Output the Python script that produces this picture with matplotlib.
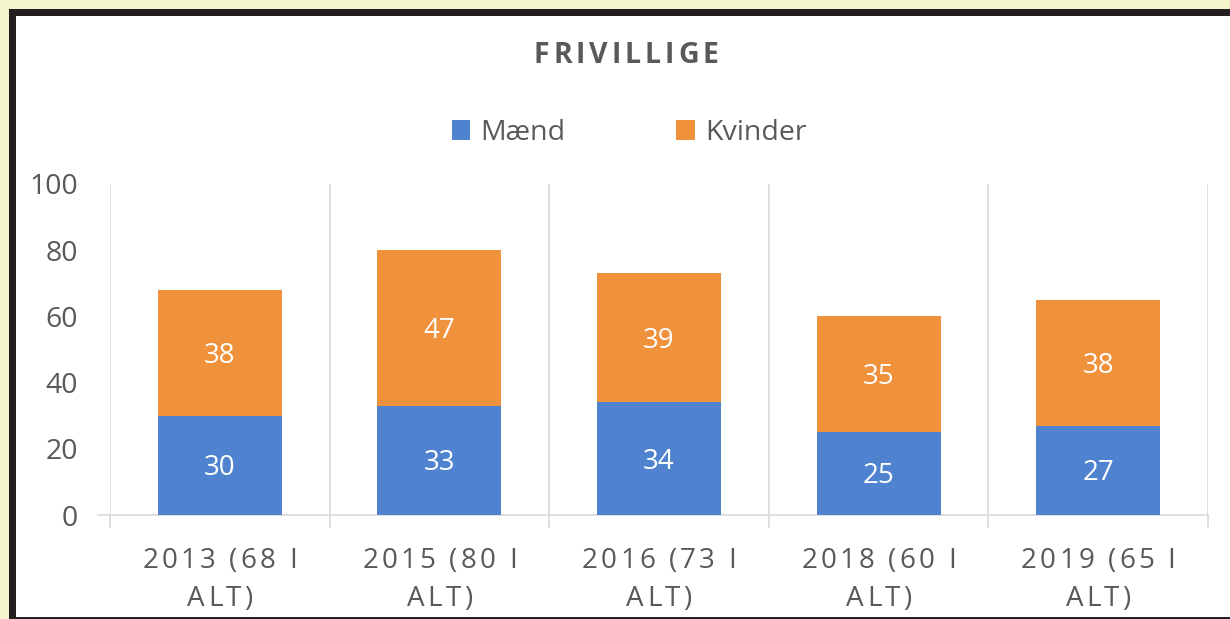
import matplotlib
matplotlib.use("Agg")
import matplotlib.pyplot as plt
import matplotlib.transforms as mtransforms
from matplotlib import font_manager
from matplotlib.font_manager import FontProperties
from matplotlib.ft2font import FT2Font
from matplotlib.patches import Rectangle
import numpy as np

# data
categories = ["2013 (68 I\nALT)", "2015 (80 I\nALT)", "2016 (73 I\nALT)",
              "2018 (60 I\nALT)", "2019 (65 I\nALT)"]
maend = [30, 33, 34, 25, 27]
kvinder = [38, 47, 39, 35, 38]
yticks = [0, 20, 40, 60, 80, 100]

BLUE = "#5083cf"
ORANGE = "#f0913b"
TEXT = "#595959"
GRID = "#d9d9d9"
FAMILY = "Open Sans"

plt.rcParams["font.family"] = [FAMILY, "DejaVu Sans"]

W, H = 1230, 619
fig = plt.figure(figsize=(W / 100, H / 100), dpi=100)
fig.patch.set_facecolor("#f5f5cd")


def advances(s, size, weight="normal"):
    # glyph advances in points, so text can be drawn with letter spacing
    font = FT2Font(font_manager.findfont(FontProperties(family=FAMILY, weight=weight)))
    font.set_size(size, 72)
    return [font.load_char(ord(c)).linearHoriAdvance / 65536 for c in s]


def spaced_text(x, y, s, transform, size, spacing, weight="normal", color=TEXT, dy=0):
    adv = advances(s, size, weight)
    total = sum(adv) + spacing * (len(s) - 1)
    pen = -total / 2
    for c, a in zip(s, adv):
        if c != " ":
            tr = mtransforms.offset_copy(transform, fig=fig, x=pen + a / 2, y=dy, units="points")
            fig.text(x, y, c, transform=tr, ha="center", va="baseline",
                     fontsize=size, fontweight=weight, color=color)
        pen += a + spacing


# dark frame and white chart area
fig.add_artist(Rectangle((9 / W, 0), 1, 1 - 9 / H, transform=fig.transFigure,
                         facecolor="#231f20", edgecolor="none", zorder=0))
fig.add_artist(Rectangle((16 / W, 2 / H), 1, 1 - 18 / H, transform=fig.transFigure,
                         facecolor="white", edgecolor="none", zorder=0))

ax = fig.add_axes([110 / W, 1 - 515 / H, 1098 / W, 331 / H])
ax.set_facecolor("none")

x = np.arange(len(categories))
width = 0.565
b1 = ax.bar(x, maend, width, color=BLUE, label="Mænd", zorder=3)
b2 = ax.bar(x, kvinder, width, bottom=maend, color=ORANGE, label="Kvinder", zorder=3)

val_tr = mtransforms.offset_copy(ax.transData, fig=fig, y=-2, units="points")
for bars, vals, bottoms in [(b1, maend, [0] * len(maend)), (b2, kvinder, maend)]:
    for rect, v, b in zip(bars, vals, bottoms):
        ax.text(rect.get_x() + rect.get_width() / 2, b + v / 2, str(v), transform=val_tr,
                ha="center", va="center", color="white", fontsize=20, zorder=4)

ax.set_xlim(-0.5, len(categories) - 0.5)
ax.set_ylim(0, 100)
ax.set_yticks(yticks)
ax.tick_params(axis="y", length=0, pad=23, labelsize=20.5, labelcolor=TEXT)

ax.set_xticks(x)
ax.set_xticklabels([])
ax.set_xticks(np.arange(len(categories) + 1) - 0.5, minor=True)
ax.tick_params(axis="x", which="major", length=0)
ax.tick_params(axis="x", which="minor", length=9, color=GRID, width=1.2)
ax.grid(axis="x", which="minor", color=GRID, linewidth=1.2, zorder=0)

for s in ["top", "right", "left"]:
    ax.spines[s].set_visible(False)
ax.spines["bottom"].set_color(GRID)
ax.spines["bottom"].set_linewidth(1.2)
ax.plot([-0.011, 0], [0, 0], transform=ax.transAxes, color=GRID, lw=1.2, clip_on=False)

# category labels with letter spacing, two lines each
lab_tr = mtransforms.blended_transform_factory(ax.transData, ax.transAxes)
for xi, lab in zip(x, categories):
    for k, line in enumerate(lab.split("\n")):
        spaced_text(xi, 0, line, lab_tr, 20, 2.3, dy=-(53 + 38 * k) * 0.72)

spaced_text(626 / W, 1 - 63 / H, "FRIVILLIGE", fig.transFigure, 20.5, 2.8, weight="bold")

fig.legend(handles=[b1, b2], labels=["Mænd", "Kvinder"], loc="center",
           bbox_to_anchor=(629 / W, 1 - 133 / H), ncol=2, frameon=False,
           fontsize=20.5, labelcolor=TEXT, handlelength=0.65, handleheight=0.65,
           handletextpad=0.35, columnspacing=3.9)

fig.savefig("out.png", dpi=100, facecolor=fig.get_facecolor())
